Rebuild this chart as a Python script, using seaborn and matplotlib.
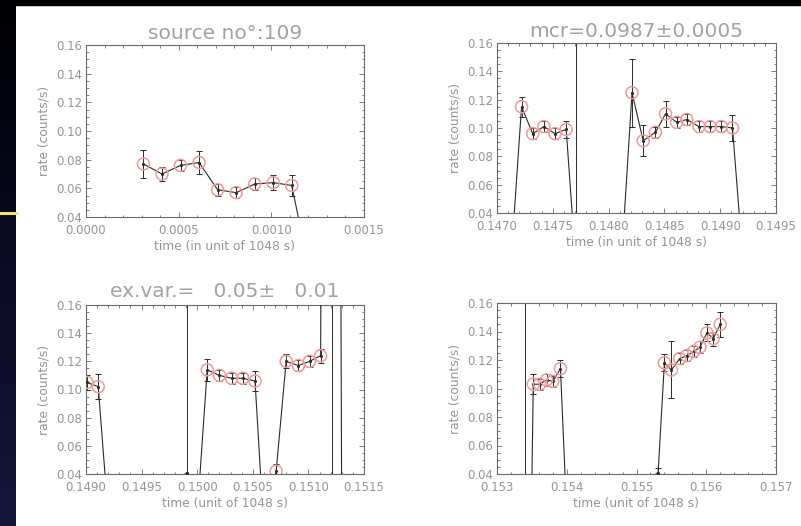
import numpy as np
import pandas as pd
import matplotlib
matplotlib.use("Agg")
import matplotlib.pyplot as plt
import seaborn as sns
from matplotlib.ticker import AutoMinorLocator, FormatStrFormatter
from matplotlib.patches import Rectangle
from matplotlib.lines import Line2D
from matplotlib.colors import LinearSegmentedColormap

# ---------------- data ----------------
# panel 1 : source no 109
t1 = [0.00031, 0.00041, 0.00051, 0.00061, 0.00071, 0.00081, 0.00091, 0.00101, 0.00111, 0.00121]
r1 = [0.077, 0.070, 0.076, 0.078, 0.059, 0.057, 0.063, 0.064, 0.062, 0.0]
e1 = [0.010, 0.005, 0.004, 0.008, 0.004, 0.004, 0.004, 0.005, 0.007, 0.0]
c1 = [1, 1, 1, 1, 1, 1, 1, 1, 1, 0]

# panel 2 : mcr
t2 = [0.14712, 0.14722, 0.14732, 0.14742, 0.14752, 0.14762, 0.14771, 0.14811,
      0.14821, 0.14831, 0.14842, 0.14851, 0.14861, 0.14870, 0.14881, 0.14891,
      0.14901, 0.14911, 0.14921]
r2 = [0.0, 0.115, 0.096, 0.101, 0.096, 0.099, 0.0, 0.0,
      0.125, 0.091, 0.097, 0.110, 0.104, 0.106, 0.101, 0.101,
      0.101, 0.100, 0.0]
e2 = [0.0, 0.007, 0.004, 0.004, 0.004, 0.006, 1.0, 0.0,
      0.024, 0.011, 0.004, 0.009, 0.004, 0.004, 0.004, 0.004,
      0.004, 0.009, 0.0]
c2 = [0, 1, 1, 1, 1, 1, 0, 0, 1, 1, 1, 1, 1, 1, 1, 1, 1, 1, 0]

# panel 3 : excess variance
t3 = [0.14891, 0.14901, 0.14911, 0.14921, 0.14991, 0.14999,
      0.15009, 0.15020, 0.15031, 0.15041, 0.15052, 0.15060,
      0.15071, 0.15080, 0.15091, 0.15101, 0.15111, 0.15121, 0.15130]
r3 = [0.101, 0.105, 0.102, 0.0, 0.041, 0.0,
      0.114, 0.110, 0.108, 0.108, 0.106, 0.0,
      0.042, 0.120, 0.117, 0.120, 0.124, 2.0, 0.0]
e3 = [0.004, 0.005, 0.009, 0.0, 1.0, 0.0,
      0.008, 0.004, 0.004, 0.004, 0.007, 0.0,
      0.005, 0.005, 0.004, 0.004, 0.005, 2.0, 0.0]
c3 = [1, 1, 1, 0, 0, 0, 1, 1, 1, 1, 1, 0, 1, 1, 1, 1, 1, 0, 0]

# panel 4
t4 = [0.15340, 0.15349, 0.15352, 0.15361, 0.15371, 0.15380, 0.15391, 0.15401,
      0.15531, 0.15540, 0.15550, 0.15562, 0.15572, 0.15582, 0.15591, 0.15601,
      0.15610, 0.15620]
r4 = [0.0, 0.0, 0.103, 0.103, 0.106, 0.105, 0.114, 0.0,
      0.041, 0.118, 0.113, 0.121, 0.123, 0.126, 0.129, 0.139,
      0.135, 0.145]
e4 = [1.0, 0.0, 0.007, 0.004, 0.004, 0.004, 0.006, 0.0,
      0.003, 0.006, 0.020, 0.004, 0.004, 0.004, 0.004, 0.006,
      0.005, 0.009]
c4 = [0, 0, 1, 1, 1, 1, 1, 0, 0, 1, 1, 1, 1, 1, 1, 1, 1, 1]

titles = ["source no\u00b0:109", "mcr=0.0987\u00b10.0005", "ex.var.=   0.05\u00b1   0.01", ""]
xlabels = ["time (in unit of 1048 s)", "time (in unit of 1048 s)",
           "time (unit of 1048 s)", "time (unit of 1048 s)"]
ylabel = "rate (counts/s)"
xlims = [(0.0, 0.0015), (0.1470, 0.1495), (0.1490, 0.1515), (0.153, 0.157)]
xstep = [0.0005, 0.0005, 0.0005, 0.001]
xfmt = ["%.4f", "%.4f", "%.4f", "%.3f"]
yticks = [0.04, 0.06, 0.08, 0.10, 0.12, 0.14, 0.16]

# ---------------- style ----------------
sns.set_style("ticks")
plt.rcParams['font.family'] = ['DejaVu Sans']

W, H = 801, 526
fig = plt.figure(figsize=(W / 100, H / 100), dpi=100)
fig.patch.set_facecolor('white')

# backdrop: dark strip at left and top
bg = fig.add_axes([0, 0, 16 / W, 1])
grad = np.linspace(0, 1, 256).reshape(-1, 1)
cm = LinearSegmentedColormap.from_list("bg", ["#000003", "#0a0a24", "#16163a"])
bg.imshow(grad, aspect='auto', cmap=cm, extent=[0, 1, 0, 1], origin='upper')
bg.set_axis_off()
fig.add_artist(Rectangle((0, 1 - 5 / H), 1, 5 / H, transform=fig.transFigure,
                         color='black', zorder=5))
fig.add_artist(Line2D([0, 17 / W], [1 - 213 / H, 1 - 213 / H], transform=fig.transFigure,
                      color='#f3e46a', lw=2.2, zorder=6))

def rect(l, t, r, b):
    return [l / W, 1 - b / H, (r - l) / W, (b - t) / H]

rects = [rect(86, 45, 364, 217), rect(497, 43, 776, 213),
         rect(86, 305, 364, 474), rect(497, 303, 776, 474)]
data = [(t1, r1, e1, c1), (t2, r2, e2, c2), (t3, r3, e3, c3), (t4, r4, e4, c4)]
title_sizes = [14.5, 14.5, 14.5, 10]
title_pads = [4, 4, 6, 2]

line_c = '#2a2a2a'
axis_c = '#6a6a6a'
text_c = '#959595'

for i in range(4):
    ax = fig.add_axes(rects[i])
    t, r, e, c = data[i]
    df = pd.DataFrame({'t': t, 'rate': r, 'err': e, 'circ': c})
    ax.errorbar(df['t'], df['rate'], yerr=df['err'], fmt='none', ecolor=line_c,
                elinewidth=0.7, capsize=2.2, capthick=0.7, zorder=2)
    sns.lineplot(data=df, x='t', y='rate', sort=False, estimator=None,
                 color=line_c, lw=0.8, ax=ax, zorder=3)
    sns.scatterplot(data=df, x='t', y='rate', color=line_c, s=5, linewidth=0,
                    ax=ax, zorder=4)
    sns.scatterplot(data=df[df['circ'] == 1], x='t', y='rate', marker='o', s=75,
                    facecolor='none', edgecolor='#f19a9a', linewidth=1.1, ax=ax, zorder=5)
    ax.set_xlim(*xlims[i])
    ax.set_ylim(0.04, 0.16)
    lo, hi = xlims[i]
    ax.set_xticks(np.arange(lo, hi + xstep[i] / 2, xstep[i]))
    ax.set_yticks(yticks)
    ax.xaxis.set_major_formatter(FormatStrFormatter(xfmt[i]))
    ax.yaxis.set_major_formatter(FormatStrFormatter("%.2f"))
    ax.xaxis.set_minor_locator(AutoMinorLocator(5))
    ax.yaxis.set_minor_locator(AutoMinorLocator(4))
    ax.tick_params(which='both', direction='in', top=True, right=True,
                   color=axis_c, labelcolor=text_c, labelsize=8.4, width=0.6)
    ax.tick_params(which='major', length=3.5)
    ax.tick_params(which='minor', length=1.8)
    ax.tick_params(axis='x', which='major', pad=5.0)
    ax.tick_params(axis='y', which='major', pad=3)
    for s in ax.spines.values():
        s.set_color(axis_c)
        s.set_linewidth(0.8)
    ax.set_xlabel(xlabels[i], color=text_c, fontsize=8.8, labelpad=2.5)
    ax.set_ylabel(ylabel, color=text_c, fontsize=8.8, labelpad=4)
    if titles[i]:
        ax.set_title(titles[i], color='#a2a2a2', fontsize=title_sizes[i], pad=title_pads[i])

fig.savefig("out.png", dpi=100, facecolor=fig.get_facecolor())
